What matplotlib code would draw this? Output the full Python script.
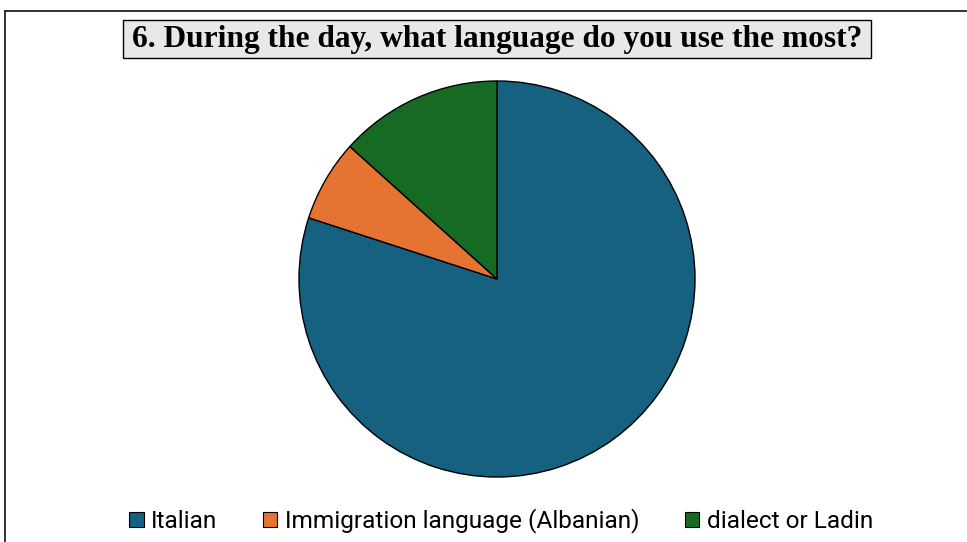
import matplotlib.pyplot as plt
from matplotlib.patches import Patch, Rectangle
from matplotlib.lines import Line2D

# Survey answers, question 6
categories = ['Italian', 'Immigration language (Albanian)', 'dialect or Ladin']
counts = [12, 1, 2]
colors = ['#166080', '#e57432', '#176a24']

title = '6. During the day, what language do you use the most?'

fig = plt.figure(figsize=(9.67, 5.42), dpi=100)
W, H = 967, 542

# chart frame (runs off the right and bottom edges)
fig.add_artist(Line2D([5 / W, 1.0], [1 - 11 / H, 1 - 11 / H],
                      transform=fig.transFigure, color='#222222', lw=1.3))
fig.add_artist(Line2D([5 / W, 5 / W], [0.0, 1 - 11 / H],
                      transform=fig.transFigure, color='#222222', lw=1.3))

# pie axes: centre (497, 279), radius 199 px
cx, cy, r = 497, 279, 199
ax = fig.add_axes([(cx - r) / W, (H - cy - r) / H, 2 * r / W, 2 * r / H])
ax.pie(counts, colors=colors, startangle=90, counterclock=False,
       radius=1.0, wedgeprops=dict(edgecolor='black', linewidth=1.0))
ax.set_xlim(-1.005, 1.005)
ax.set_ylim(-1.005, 1.005)
ax.set_aspect('equal')
ax.axis('off')

# title with grey box
fig.add_artist(Rectangle((123 / W, 1 - 58 / H), (871 - 123) / W, 38 / H,
                         transform=fig.transFigure, facecolor='#e8e8e8',
                         edgecolor='black', linewidth=1.0))
fig.text(497 / W, 1 - 40 / H, title, ha='center', va='center',
         fontsize=22.6, fontweight='bold', family='Liberation Serif')

handles = [Patch(facecolor=c, edgecolor='black', linewidth=0.8) for c in colors]
fig.legend(handles, categories, loc='center', bbox_to_anchor=(501 / W, 1 - 521 / H),
           ncol=3, frameon=False, handlelength=0.6, handleheight=0.6,
           handletextpad=0.3, columnspacing=1.85,
           prop={'family': 'Roboto', 'size': 17.6})

fig.savefig('out.png', dpi=100)
